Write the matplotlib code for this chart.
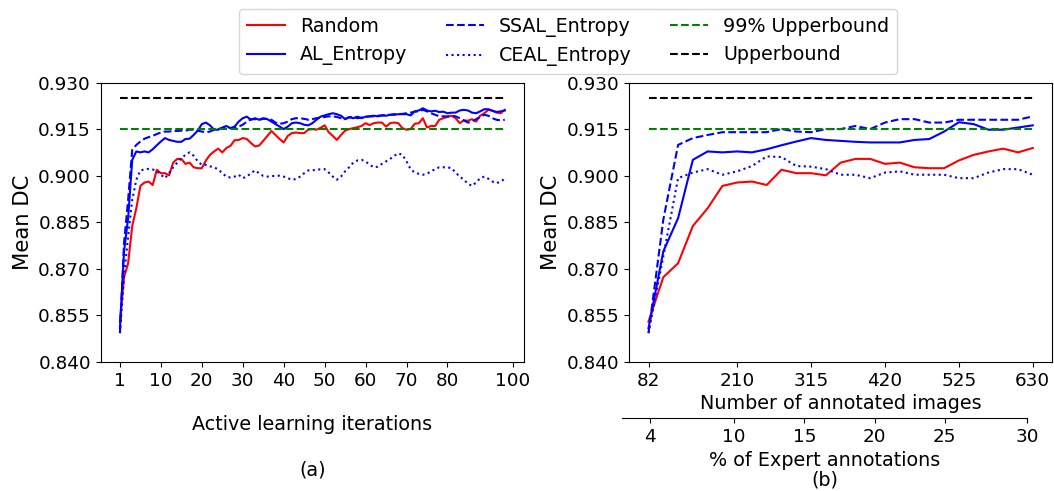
import numpy as np
import matplotlib
matplotlib.use('Agg')
import matplotlib.pyplot as plt
from matplotlib.ticker import FormatStrFormatter

# (a) active learning iterations, 95 points
random_a = [0.8530, 0.8673, 0.8718, 0.8838, 0.8895, 0.8967, 0.8978, 0.8981, 0.8970, 0.9019,
            0.9008, 0.9008, 0.9001, 0.9042, 0.9054, 0.9054, 0.9038, 0.9042, 0.9027, 0.9024,
            0.9024, 0.9049, 0.9067, 0.9078, 0.9087, 0.9075, 0.9089, 0.9096, 0.9114, 0.9115,
            0.9121, 0.9118, 0.9105, 0.9094, 0.9097, 0.9112, 0.9128, 0.9144, 0.9131, 0.9118,
            0.9107, 0.9128, 0.9137, 0.9139, 0.9137, 0.9137, 0.9148, 0.9150, 0.9148, 0.9154,
            0.9162, 0.9140, 0.9128, 0.9115, 0.9131, 0.9145, 0.9150, 0.9153, 0.9156, 0.9160,
            0.9169, 0.9163, 0.9169, 0.9171, 0.9171, 0.9158, 0.9169, 0.9171, 0.9169, 0.9153,
            0.9148, 0.9150, 0.9167, 0.9169, 0.9185, 0.9155, 0.9160, 0.9160, 0.9180, 0.9185,
            0.9189, 0.9193, 0.9185, 0.9169, 0.9178, 0.9177, 0.9182, 0.9174, 0.9193, 0.9201,
            0.9212, 0.9209, 0.9203, 0.9201, 0.9212]
al_a = [0.8509, 0.8756, 0.8863, 0.9051, 0.9078, 0.9075, 0.9078, 0.9075, 0.9085, 0.9098,
        0.9110, 0.9121, 0.9115, 0.9112, 0.9109, 0.9109, 0.9118, 0.9119, 0.9131, 0.9145,
        0.9166, 0.9171, 0.9162, 0.9148, 0.9148, 0.9155, 0.9160, 0.9153, 0.9158, 0.9174,
        0.9185, 0.9190, 0.9180, 0.9185, 0.9180, 0.9185, 0.9182, 0.9174, 0.9166, 0.9158,
        0.9150, 0.9158, 0.9169, 0.9171, 0.9169, 0.9164, 0.9162, 0.9169, 0.9180, 0.9190,
        0.9194, 0.9198, 0.9201, 0.9198, 0.9193, 0.9182, 0.9189, 0.9185, 0.9190, 0.9185,
        0.9190, 0.9191, 0.9193, 0.9191, 0.9194, 0.9193, 0.9196, 0.9196, 0.9198, 0.9198,
        0.9198, 0.9194, 0.9207, 0.9210, 0.9217, 0.9210, 0.9207, 0.9209, 0.9205, 0.9206,
        0.9201, 0.9203, 0.9203, 0.9210, 0.9212, 0.9210, 0.9203, 0.9201, 0.9207, 0.9214,
        0.9214, 0.9209, 0.9205, 0.9207, 0.9210]
ssal_a = [0.8493, 0.8783, 0.8922, 0.9083, 0.9099, 0.9110, 0.9119, 0.9124, 0.9128, 0.9134,
          0.9139, 0.9142, 0.9142, 0.9144, 0.9144, 0.9145, 0.9145, 0.9148, 0.9148, 0.9145,
          0.9142, 0.9140, 0.9142, 0.9148, 0.9150, 0.9153, 0.9156, 0.9153, 0.9155, 0.9158,
          0.9164, 0.9174, 0.9182, 0.9182, 0.9180, 0.9183, 0.9183, 0.9180, 0.9171, 0.9167,
          0.9169, 0.9174, 0.9182, 0.9185, 0.9185, 0.9183, 0.9180, 0.9182, 0.9185, 0.9187,
          0.9189, 0.9191, 0.9191, 0.9189, 0.9185, 0.9183, 0.9187, 0.9189, 0.9185, 0.9187,
          0.9189, 0.9191, 0.9191, 0.9193, 0.9194, 0.9196, 0.9196, 0.9198, 0.9198, 0.9199,
          0.9201, 0.9203, 0.9206, 0.9207, 0.9212, 0.9207, 0.9201, 0.9196, 0.9191, 0.9191,
          0.9191, 0.9193, 0.9191, 0.9185, 0.9178, 0.9171, 0.9174, 0.9182, 0.9189, 0.9196,
          0.9193, 0.9185, 0.9180, 0.9178, 0.9180]
ceal_a = [0.8493, 0.8675, 0.8804, 0.8922, 0.8987, 0.9017, 0.9020, 0.9022, 0.9020, 0.9014,
          0.9003, 0.8992, 0.9008, 0.9027, 0.9042, 0.9056, 0.9067, 0.9075, 0.9064, 0.9046,
          0.9035, 0.9035, 0.9030, 0.9027, 0.9020, 0.9008, 0.8997, 0.8994, 0.8997, 0.9003,
          0.8992, 0.8997, 0.9008, 0.9017, 0.9008, 0.8999, 0.8997, 0.8999, 0.8999, 0.9000,
          0.8997, 0.8992, 0.8987, 0.8989, 0.8997, 0.9008, 0.9017, 0.9017, 0.9020, 0.9020,
          0.9021, 0.9010, 0.8997, 0.8987, 0.8997, 0.9014, 0.9027, 0.9042, 0.9049, 0.9051,
          0.9046, 0.9035, 0.9027, 0.9029, 0.9038, 0.9046, 0.9054, 0.9064, 0.9072, 0.9067,
          0.9046, 0.9021, 0.9010, 0.9006, 0.9003, 0.9006, 0.9014, 0.9021, 0.9027, 0.9027,
          0.9027, 0.9024, 0.9010, 0.8997, 0.8987, 0.8974, 0.8967, 0.8978, 0.8992, 0.8997,
          0.8990, 0.8981, 0.8976, 0.8981, 0.8990]
iter_ticks = [0, 10, 20, 30, 40, 50, 60, 70, 80, 96]
iter_labels = ['1', '10', '20', '30', '40', '50', '60', '70', '80', '100']

# (b) number of annotated images, 27 points
random_b = [0.8530, 0.8673, 0.8718, 0.8838, 0.8895, 0.8967, 0.8978, 0.8981, 0.8970, 0.9019,
            0.9008, 0.9008, 0.9001, 0.9042, 0.9054, 0.9054, 0.9038, 0.9042, 0.9027, 0.9024,
            0.9024, 0.9049, 0.9067, 0.9078, 0.9087, 0.9075, 0.9089]
al_b = [0.8509, 0.8756, 0.8863, 0.9051, 0.9078, 0.9075, 0.9078, 0.9075, 0.9085, 0.9098,
        0.9110, 0.9121, 0.9115, 0.9112, 0.9109, 0.9107, 0.9107, 0.9107, 0.9115, 0.9118,
        0.9142, 0.9172, 0.9166, 0.9148, 0.9148, 0.9155, 0.9162]
ssal_b = [0.8493, 0.8858, 0.9099, 0.9121, 0.9131, 0.9140, 0.9140, 0.9140, 0.9140, 0.9150,
          0.9142, 0.9140, 0.9150, 0.9150, 0.9160, 0.9150, 0.9171, 0.9182, 0.9182, 0.9171,
          0.9171, 0.9180, 0.9180, 0.9180, 0.9180, 0.9180, 0.9191]
ceal_b = [0.8493, 0.8740, 0.8992, 0.9010, 0.9021, 0.9003, 0.9014, 0.9031, 0.9062, 0.9060,
          0.9031, 0.9029, 0.9021, 0.9003, 0.9003, 0.8992, 0.9010, 0.9014, 0.9003, 0.9003,
          0.9003, 0.8992, 0.8992, 0.9010, 0.9021, 0.9021, 0.9003]
img_ticks = [0, 6, 11, 16, 21, 26]
img_labels = ['82', '210', '315', '420', '525', '630']
pct_ticks = [4, 10, 15, 20, 25, 30.87]
pct_labels = ['4', '10', '15', '20', '25', '30']

upper = 0.925
upper99 = 0.915

TICK = 13.2
LAB = 13.8
YLAB = 15.2

fig = plt.figure(figsize=(10.54, 4.91), dpi=100)
W, H = 1054., 491.
ax1 = fig.add_axes([100.7/W, 1-362/H, 423.3/W, 279.5/H])
ax2 = fig.add_axes([629.3/W, 1-362/H, 422.7/W, 279.5/H])


def draw(ax, r, a, s, c):
    x = np.arange(len(r))
    ax.plot(x, r, '-', color='red', lw=1.5, label='Random')
    ax.plot(x, a, '-', color='blue', lw=1.5, label='AL_Entropy')
    ax.plot(x, s, '--', color='blue', lw=1.5, label='SSAL_Entropy')
    ax.plot(x, c, ':', color='blue', lw=1.5, label='CEAL_Entropy')
    ax.plot(x, np.full(len(x), upper99), '--', color='green', lw=1.5, label='99% Upperbound')
    ax.plot(x, np.full(len(x), upper), '--', color='black', lw=1.5, label='Upperbound')
    ax.set_ylim(0.840, 0.930)
    ax.set_yticks(np.arange(0.840, 0.9301, 0.015))
    ax.yaxis.set_major_formatter(FormatStrFormatter('%.3f'))
    ax.tick_params(labelsize=TICK)
    ax.set_ylabel('Mean DC', fontsize=YLAB)


draw(ax1, random_a, al_a, ssal_a, ceal_a)
ax1.set_xticks(iter_ticks)
ax1.set_xticklabels(iter_labels)
ax1.set_xlabel('\nActive learning iterations\n\n(a)', fontsize=LAB, labelpad=2, linespacing=1.25)

draw(ax2, random_b, al_b, ssal_b, ceal_b)
ax2.set_xticks(img_ticks)
ax2.set_xticklabels(img_labels)
ax2.set_xlabel('Number of annotated images', fontsize=LAB, labelpad=3)

# second x axis for percentages
ax3 = fig.add_axes([621.7/W, 1-418/H, 405.6/W, 0.0001])
ax3.set_facecolor('none')
for sp in ['top', 'left', 'right']:
    ax3.spines[sp].set_visible(False)
ax3.set_yticks([])
ax3.set_xlim(2.0, 30.87)
ax3.set_xticks(pct_ticks)
ax3.set_xticklabels(pct_labels)
ax3.tick_params(labelsize=TICK)
ax3.set_xlabel('% of Expert annotations\n(b)', fontsize=LAB, labelpad=3.5, linespacing=1.05)

h, l = ax1.get_legend_handles_labels()
fig.legend(h, l, ncol=3, loc='upper center', bbox_to_anchor=(568/W, 1-9.3/H),
           borderaxespad=0, fontsize=13.7)

fig.savefig('out.png', dpi=100)
